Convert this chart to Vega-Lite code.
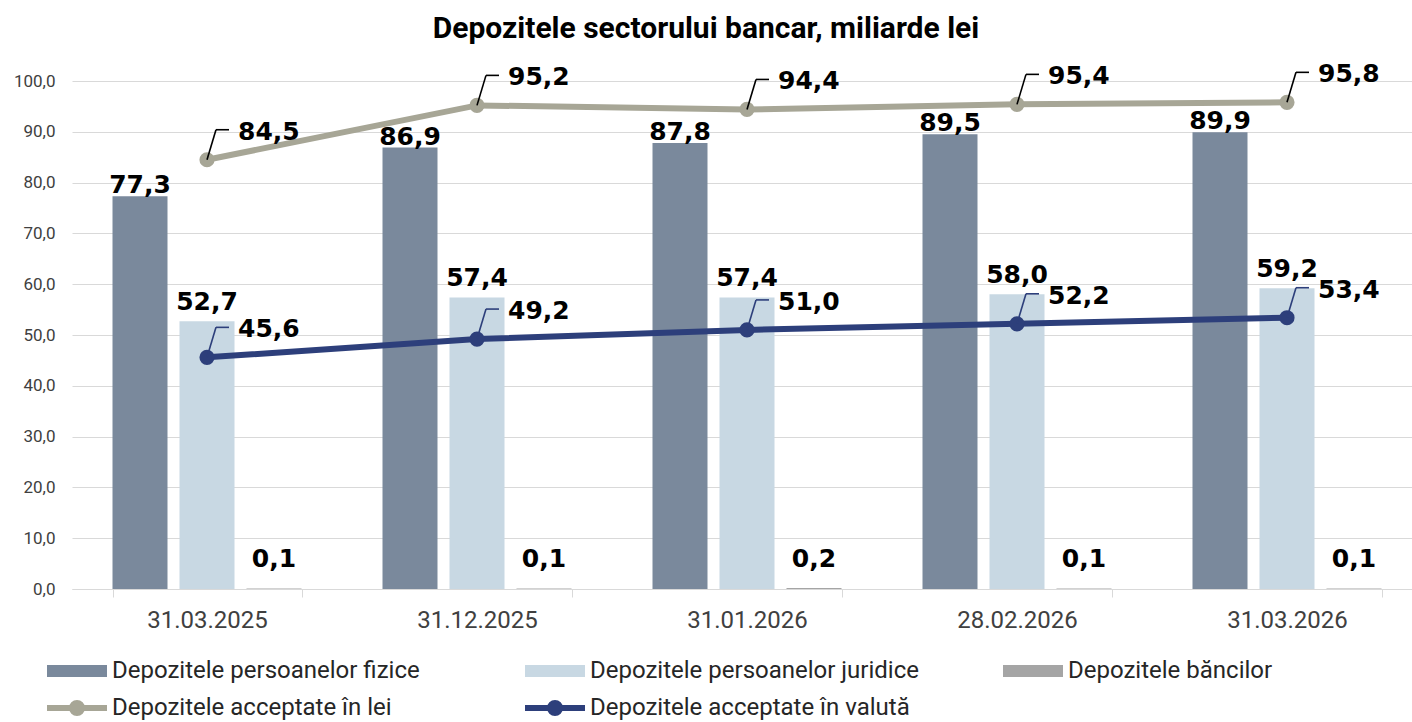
{
  "$schema": "https://vega.github.io/schema/vega-lite/v6.json",
  "width": 1340,
  "height": 508,
  "autosize": {"type": "none"},
  "padding": {"left": 72, "top": 81, "right": 0, "bottom": 133},
  "background": "white",
  "config": {
    "locale": {"number": {"decimal": ",", "thousands": ".", "grouping": [3], "currency": ["", ""]}},
    "view": {"stroke": null},
    "font": "Roboto"
  },
  "title": {
    "text": "Depozitele sectorului bancar, miliarde lei",
    "font": "Roboto", "fontSize": 30, "fontWeight": "bold", "color": "#000000",
    "anchor": "middle", "frame": "group", "baseline": "alphabetic", "offset": -6, "dx": -36
  },
  "datasets": {
    "bars": [
      {"date": "31.03.2025", "series": "Depozitele persoanelor fizice", "value": 77.3},
      {"date": "31.03.2025", "series": "Depozitele persoanelor juridice", "value": 52.7},
      {"date": "31.03.2025", "series": "Depozitele băncilor", "value": 0.1},
      {"date": "31.12.2025", "series": "Depozitele persoanelor fizice", "value": 86.9},
      {"date": "31.12.2025", "series": "Depozitele persoanelor juridice", "value": 57.4},
      {"date": "31.12.2025", "series": "Depozitele băncilor", "value": 0.1},
      {"date": "31.01.2026", "series": "Depozitele persoanelor fizice", "value": 87.8},
      {"date": "31.01.2026", "series": "Depozitele persoanelor juridice", "value": 57.4},
      {"date": "31.01.2026", "series": "Depozitele băncilor", "value": 0.2},
      {"date": "28.02.2026", "series": "Depozitele persoanelor fizice", "value": 89.5},
      {"date": "28.02.2026", "series": "Depozitele persoanelor juridice", "value": 58.0},
      {"date": "28.02.2026", "series": "Depozitele băncilor", "value": 0.1},
      {"date": "31.03.2026", "series": "Depozitele persoanelor fizice", "value": 89.9},
      {"date": "31.03.2026", "series": "Depozitele persoanelor juridice", "value": 59.2},
      {"date": "31.03.2026", "series": "Depozitele băncilor", "value": 0.1}
    ],
    "lines": [
      {"date": "31.03.2025", "series": "Depozitele acceptate în lei", "value": 84.5},
      {"date": "31.12.2025", "series": "Depozitele acceptate în lei", "value": 95.2},
      {"date": "31.01.2026", "series": "Depozitele acceptate în lei", "value": 94.4},
      {"date": "28.02.2026", "series": "Depozitele acceptate în lei", "value": 95.4},
      {"date": "31.03.2026", "series": "Depozitele acceptate în lei", "value": 95.8},
      {"date": "31.03.2025", "series": "Depozitele acceptate în valută", "value": 45.6},
      {"date": "31.12.2025", "series": "Depozitele acceptate în valută", "value": 49.2},
      {"date": "31.01.2026", "series": "Depozitele acceptate în valută", "value": 51.0},
      {"date": "28.02.2026", "series": "Depozitele acceptate în valută", "value": 52.2},
      {"date": "31.03.2026", "series": "Depozitele acceptate în valută", "value": 53.4}
    ]
  },
  "layer": [
    {
      "data": {"name": "bars"},
      "mark": {"type": "bar"},
      "encoding": {
        "x": {
          "field": "date", "type": "nominal",
          "scale": {"type": "band", "domain": ["31.03.2025", "31.12.2025", "31.01.2026", "28.02.2026", "31.03.2026"], "paddingInner": 0.3, "paddingOuter": 0.15, "range": [0, 1350]},
          "axis": {"title": null, "labelFont": "Roboto", "labelFontSize": 24, "labelColor": "#404040", "labelPadding": 11, "tickSize": 8, "tickBand": "extent", "tickColor": "#d9d9d9", "domainColor": "#d9d9d9", "labelAngle": 0, "grid": false}
        },
        "xOffset": {
          "field": "series", "type": "nominal",
          "scale": {"domain": ["Depozitele persoanelor fizice", "Depozitele persoanelor juridice", "Depozitele băncilor"], "paddingInner": 0.179, "paddingOuter": 0}
        },
        "y": {
          "field": "value", "type": "quantitative",
          "scale": {"domain": [0, 100], "nice": false},
          "axis": {"title": null, "values": [0, 10, 20, 30, 40, 50, 60, 70, 80, 90, 100], "format": ".1f", "labelFont": "Roboto", "labelFontSize": 17, "labelColor": "#404040", "labelPadding": 17, "domain": false, "ticks": false, "grid": true, "gridColor": "#d9d9d9", "gridWidth": 1}
        },
        "color": {
          "field": "series", "type": "nominal",
          "scale": {
            "domain": ["Depozitele persoanelor fizice", "Depozitele persoanelor juridice", "Depozitele băncilor", "Depozitele acceptate în lei", "Depozitele acceptate în valută"],
            "range": ["#7a899c", "#c8d8e3", "#a5a5a5", "#a7a696", "#2d3f7b"]
          },
          "legend": {
            "title": null,
            "orient": "none", "legendX": -8, "legendY": 576,
            "direction": "horizontal", "columns": 3, "gridAlign": "all",
            "columnPadding": 72, "rowPadding": 4,
            "symbolSize": 400, "symbolStrokeWidth": 6, "symbolOffset": 0,
            "labelFont": "Roboto", "labelFontSize": 24, "labelColor": "#262626", "labelOffset": 22, "labelLimit": 0,
            "encode": {
              "symbols": {
                "update": {
                  "shape": [
                    {"test": "indexof(datum.value, 'acceptate') >= 0", "value": "M-3,0L3,0M-0.5,0A0.5,0.5 0 1,0 0.5,0A0.5,0.5 0 1,0 -0.5,0Z"},
                    {"value": "M-2.7,-0.3H2.7V0.3H-2.7Z"}
                  ],
                  "fill": [
                    {"test": "datum.value === 'Depozitele persoanelor fizice'", "value": "#7a899c"},
                    {"test": "datum.value === 'Depozitele persoanelor juridice'", "value": "#c8d8e3"},
                    {"test": "datum.value === 'Depozitele băncilor'", "value": "#a5a5a5"},
                    {"test": "datum.value === 'Depozitele acceptate în lei'", "value": "#a7a696"},
                    {"value": "#2d3f7b"}
                  ],
                  "stroke": [
                    {"test": "datum.value === 'Depozitele persoanelor fizice'", "value": "#7a899c"},
                    {"test": "datum.value === 'Depozitele persoanelor juridice'", "value": "#c8d8e3"},
                    {"test": "datum.value === 'Depozitele băncilor'", "value": "#a5a5a5"},
                    {"test": "datum.value === 'Depozitele acceptate în lei'", "value": "#a7a696"},
                    {"value": "#2d3f7b"}
                  ],
                  "strokeWidth": {"value": 6},
                  "opacity": {"value": 1}
                }
              }
            }
          }
        }
      }
    },
    {
      "data": {"name": "lines"},
      "mark": {"type": "line", "strokeWidth": 6, "point": {"filled": true, "size": 230}},
      "encoding": {
        "x": {"field": "date", "type": "nominal"},
        "y": {"field": "value", "type": "quantitative"},
        "color": {"field": "series", "type": "nominal"}
      }
    },
    {
      "data": {"name": "lines"},
      "mark": {"type": "rule", "strokeWidth": 1.6, "x2Offset": 9, "y2Offset": -30},
      "encoding": {
        "x": {"field": "date", "type": "nominal"},
        "x2": {"field": "date"},
        "y": {"field": "value", "type": "quantitative"},
        "y2": {"field": "value"},
        "stroke": {"condition": {"test": "datum.series === 'Depozitele acceptate în valută'", "value": "#2d3f7b"}, "value": "#000000"}
      }
    },
    {
      "data": {"name": "lines"},
      "mark": {"type": "rule", "strokeWidth": 1.6, "xOffset": 9, "yOffset": -30, "x2Offset": 22, "y2Offset": -30},
      "encoding": {
        "x": {"field": "date", "type": "nominal"},
        "x2": {"field": "date"},
        "y": {"field": "value", "type": "quantitative"},
        "y2": {"field": "value"},
        "stroke": {"condition": {"test": "datum.series === 'Depozitele acceptate în valută'", "value": "#2d3f7b"}, "value": "#000000"}
      }
    },
    {
      "data": {"name": "lines"},
      "mark": {"type": "text", "align": "left", "baseline": "alphabetic", "dx": 31, "dy": -20, "font": "DejaVu Sans", "fontWeight": "bold", "fontSize": 25, "color": "#000000"},
      "encoding": {
        "x": {"field": "date", "type": "nominal"},
        "y": {"field": "value", "type": "quantitative"},
        "text": {"field": "value", "type": "quantitative", "format": ".1f"}
      }
    },
    {
      "data": {"name": "bars"},
      "transform": [{"filter": "datum.series === 'Depozitele persoanelor fizice'"}],
      "mark": {"type": "text", "align": "center", "baseline": "alphabetic", "dy": -3, "font": "DejaVu Sans", "fontWeight": "bold", "fontSize": 25, "color": "#000000"},
      "encoding": {
        "x": {"field": "date", "type": "nominal"},
        "xOffset": {"field": "series", "type": "nominal"},
        "y": {"field": "value", "type": "quantitative"},
        "text": {"field": "value", "type": "quantitative", "format": ".1f"}
      }
    },
    {
      "data": {"name": "bars"},
      "transform": [{"filter": "datum.series === 'Depozitele persoanelor juridice'"}],
      "mark": {"type": "text", "align": "center", "baseline": "alphabetic", "dy": -11, "font": "DejaVu Sans", "fontWeight": "bold", "fontSize": 25, "color": "#000000"},
      "encoding": {
        "x": {"field": "date", "type": "nominal"},
        "xOffset": {"field": "series", "type": "nominal"},
        "y": {"field": "value", "type": "quantitative"},
        "text": {"field": "value", "type": "quantitative", "format": ".1f"}
      }
    },
    {
      "data": {"name": "bars"},
      "transform": [{"filter": "datum.series === 'Depozitele băncilor'"}],
      "mark": {"type": "text", "align": "center", "baseline": "alphabetic", "dy": -21, "font": "DejaVu Sans", "fontWeight": "bold", "fontSize": 25, "color": "#000000"},
      "encoding": {
        "x": {"field": "date", "type": "nominal"},
        "xOffset": {"field": "series", "type": "nominal"},
        "y": {"field": "value", "type": "quantitative"},
        "text": {"field": "value", "type": "quantitative", "format": ".1f"}
      }
    }
  ]
}
